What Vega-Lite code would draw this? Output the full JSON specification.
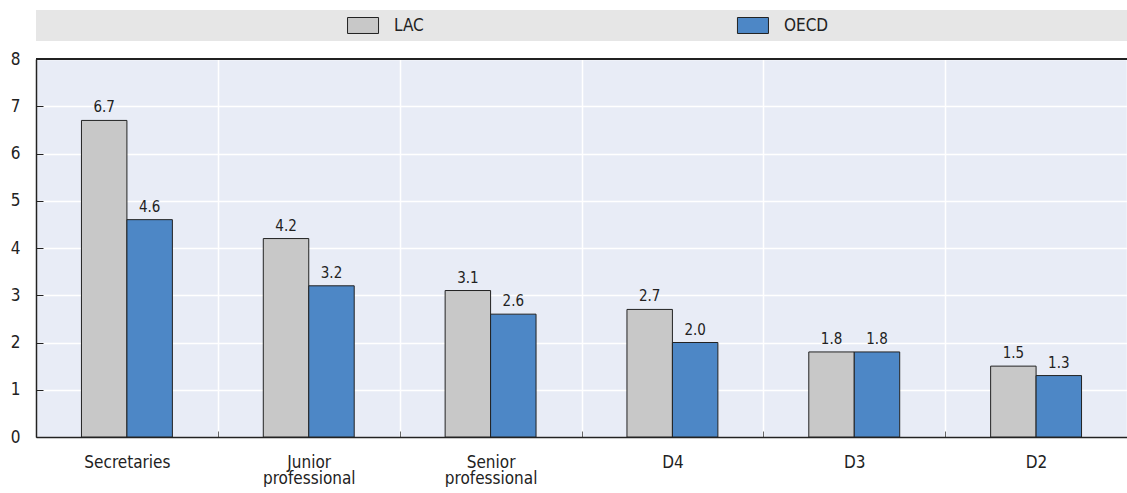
{
  "$schema": "https://vega.github.io/schema/vega-lite/v6.json",
  "padding": {"left": 10, "top": 10, "right": 0, "bottom": 0},
  "bounds": "flush",
  "spacing": 18,
  "config": {
    "font": "DejaVu Sans Condensed, Liberation Sans, sans-serif",
    "view": {"stroke": null},
    "axis": {"labelColor": "#222", "labelFont": "DejaVu Sans Condensed, Liberation Sans, sans-serif"}
  },
  "datasets": {
    "rates": [
      {"category": "Secretaries", "series": "LAC", "value": 6.7},
      {"category": "Secretaries", "series": "OECD", "value": 4.6},
      {"category": "Junior professional", "series": "LAC", "value": 4.2},
      {"category": "Junior professional", "series": "OECD", "value": 3.2},
      {"category": "Senior professional", "series": "LAC", "value": 3.1},
      {"category": "Senior professional", "series": "OECD", "value": 2.6},
      {"category": "D4", "series": "LAC", "value": 2.7},
      {"category": "D4", "series": "OECD", "value": 2.0},
      {"category": "D3", "series": "LAC", "value": 1.8},
      {"category": "D3", "series": "OECD", "value": 1.8},
      {"category": "D2", "series": "LAC", "value": 1.5},
      {"category": "D2", "series": "OECD", "value": 1.3}
    ],
    "keys": [{"series": "LAC"}, {"series": "OECD"}]
  },
  "vconcat": [
    {
      "width": 1091,
      "height": 31,
      "view": {"fill": "#e6e6e6", "stroke": null},
      "data": {"name": "keys"},
      "layer": [
        {
          "mark": {
            "type": "point",
            "shape": "M-1,-0.516H1V0.516H-1Z",
            "size": 961,
            "filled": true,
            "opacity": 1,
            "stroke": "#222",
            "strokeWidth": 1,
            "xOffset": -23.5
          },
          "encoding": {
            "x": {"field": "series", "type": "nominal", "scale": {"type": "point", "padding": 0.899}, "axis": null},
            "color": {"field": "series", "type": "nominal", "scale": {"domain": ["LAC", "OECD"], "range": ["#c8c8c8", "#4d87c6"]}, "legend": null}
          }
        },
        {
          "mark": {"type": "text", "align": "left", "baseline": "middle", "dx": 7.5, "fontSize": 17, "color": "#222"},
          "encoding": {
            "x": {"field": "series", "type": "nominal", "scale": {"type": "point", "padding": 0.899}, "axis": null},
            "text": {"field": "series"}
          }
        }
      ]
    },
    {
      "width": 1091,
      "height": 378,
      "view": {"fill": "#e8ecf6", "stroke": null},
      "data": {"name": "rates"},
      "layer": [
        {
          "mark": {"type": "bar", "stroke": "#222", "strokeWidth": 1},
          "encoding": {
            "x": {
              "field": "category",
              "type": "nominal",
              "sort": null,
              "scale": {"paddingInner": 0, "paddingOuter": 0},
              "axis": {
                "title": null,
                "labelAngle": 0,
                "labelFontSize": 17,
                "labelLineHeight": 16.5,
                "labelPadding": 23,
                "labelExpr": "split(datum.label, ' ')",
                "tickBand": "extent",
                "tickSize": -6,
                "tickColor": "#666",
                "tickWidth": 1,
                "grid": true,
                "gridColor": "#ffffff",
                "gridWidth": 1.5,
                "domainColor": "#222",
                "domainWidth": 1.5
              }
            },
            "xOffset": {"field": "series", "type": "nominal", "scale": {"paddingInner": 0, "paddingOuter": 1}},
            "y": {
              "field": "value",
              "type": "quantitative",
              "scale": {"domain": [0, 8], "nice": false},
              "axis": {
                "title": null,
                "values": [0, 1, 2, 3, 4, 5, 6, 7, 8],
                "labelFontSize": 17,
                "labelPadding": 23,
                "tickSize": -7,
                "tickColor": "#222",
                "grid": true,
                "gridColor": "#ffffff",
                "gridWidth": 1.5,
                "domainColor": "#222",
                "domainWidth": 1.5
              }
            },
            "color": {"field": "series", "type": "nominal", "legend": null}
          }
        },
        {
          "mark": {"type": "text", "baseline": "alphabetic", "dy": -8, "fontSize": 15, "color": "#222"},
          "encoding": {
            "x": {"field": "category", "type": "nominal", "sort": null},
            "xOffset": {"field": "series", "type": "nominal"},
            "y": {"field": "value", "type": "quantitative"},
            "text": {"field": "value", "type": "quantitative", "format": ".1f"}
          }
        },
        {
          "mark": {"type": "rule", "color": "#222", "strokeWidth": 1.5},
          "encoding": {"y": {"datum": 8}}
        }
      ]
    }
  ]
}
